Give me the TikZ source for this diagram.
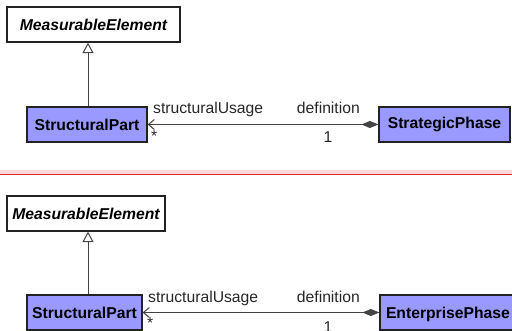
\documentclass[tikz,border=0pt]{standalone}
\usepackage{fontspec}
\setmainfont{Liberation Sans}
\usetikzlibrary{arrows.meta}
\definecolor{boxfill}{RGB}{153,153,255}
\definecolor{boxline}{RGB}{34,34,34}
\definecolor{conn}{RGB}{68,68,68}
\definecolor{sepred}{RGB}{218,44,44}
\definecolor{seppink}{RGB}{249,216,218}
\tikzset{
  cls/.style={draw=boxline, line width=1.2pt, fill=boxfill, minimum height=35pt, inner sep=0pt,
              font=\fontsize{15.7}{18}\selectfont\bfseries},
  abs/.style={cls, fill=white, font=\fontsize{15.7}{18}\selectfont\bfseries\itshape},
  lbl/.style={inner sep=0pt, font=\fontsize{15.7}{18}\selectfont, text=black!85},
  gen/.style={draw=conn, line width=1pt, -{Triangle[open, length=10.5pt, width=11pt, fill=white]}},
  assoc/.style={draw=conn, line width=1pt, {Straight Barb[length=6pt, width=10pt]}-{Diamond[length=17pt, width=7pt]}}
}
\begin{document}
\begin{tikzpicture}[x=1pt, y=-1pt]
\useasboundingbox (0,0) rectangle (512,330);
\clip (0,0) rectangle (512,330);
% separator
\fill[seppink] (0,170) rectangle (512,174);
\fill[sepred] (0,174) rectangle (512,175.3);
% top diagram
\node[abs, minimum width=173pt] (me1) at (93.5,24.5) {MeasurableElement};
\node[cls, minimum width=120pt] (sp1) at (87,124.5) {StructuralPart};
\node[cls, minimum width=131pt] (stp) at (444.5,124.5) {StrategicPhase};
\draw[gen] (sp1.north -| 88,0) -- (me1.south -| 88,0);
\draw[assoc] (sp1.east) -- (stp.west);
\node[lbl, anchor=base west] (su1) at (153,113) {structuralUsage};
\node[lbl, anchor=north west] (st1) at (151,130) {*};
\node[lbl, anchor=base east] (de1) at (360,113) {definition};
\node[lbl, anchor=base] (on1) at (328,142) {1};
% bottom diagram
\node[abs, minimum width=158pt] (me2) at (86,213.5) {MeasurableElement};
\node[cls, minimum width=115pt] (sp2) at (84.5,312.5) {StructuralPart};
\node[cls, minimum width=135pt, text width=135pt, align=left, text depth=0pt] (ep) at (447.5,312.5) {\hspace*{6pt}EnterprisePhase};
\draw[gen] (sp2.north -| 88,0) -- (me2.south -| 88,0);
\draw[assoc] (sp2.east) -- (ep.west);
\node[lbl, anchor=base west] (su2) at (148,302) {structuralUsage};
\node[lbl, anchor=north west] (st2) at (147,317) {*};
\node[lbl, anchor=base east] (de2) at (360,302) {definition};
\node[lbl, anchor=base] (on2) at (328,332) {1};
\end{tikzpicture}
\end{document}
